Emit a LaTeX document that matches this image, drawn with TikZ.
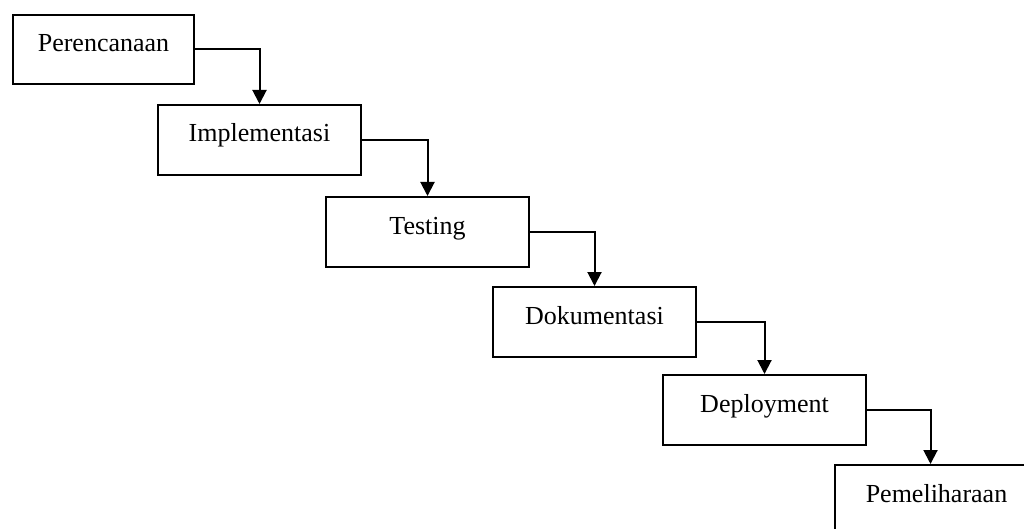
\documentclass[tikz,border=0pt]{standalone}
\usepackage{fontspec}
\setmainfont{Liberation Serif}
\usetikzlibrary{arrows.meta}

\newcommand{\boxw}{203pt}
\newcommand{\linew}{2pt}
\newcommand{\bn}{\node[draw, line width=\linew, anchor=north west, inner sep=0pt, minimum width=\boxw, text height=37pt, text depth=33pt, font=\fontsize{26}{30}\selectfont]}
\newcommand{\arr}{\draw[line width=\linew, -{Triangle[length=14pt, width=14pt]}]}

\begin{document}
\begin{tikzpicture}[x=1pt, y=-1pt]
            \useasboundingbox (0,0) rectangle (1024,529);

            \bn[minimum width=181pt, text depth=32pt] (n0) at (12, 14) {Perencanaan};
            \bn (n1) at (157, 104) {Implementasi};
            \bn (n2) at (325, 196) {Testing};
            \bn (n3) at (492, 286) {Dokumentasi};
            \bn (n4) at (662, 374) {Deployment};
            \bn (n5) at (834, 464) {Pemeliharaan};

            \arr (n0.east) -| (n1.north);
            \arr (n1.east) -| (n2.north);
            \arr (n2.east) -| (n3.north);
            \arr (n3.east) -| (n4.north);
            \arr (n4.east) -| ([xshift=-6pt]n5.north);
        \end{tikzpicture}
\end{document}
